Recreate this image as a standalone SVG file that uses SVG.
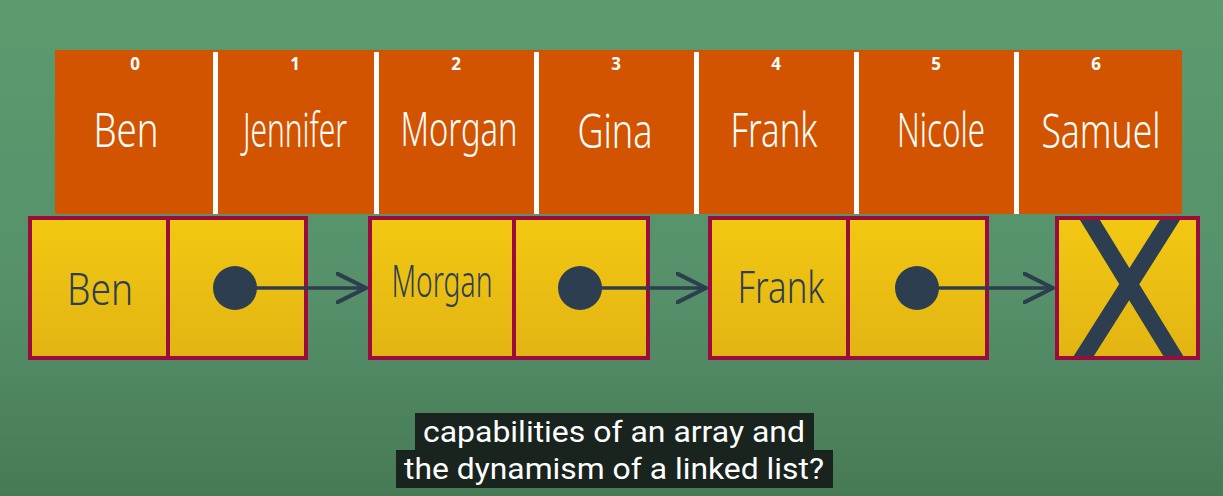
<svg xmlns="http://www.w3.org/2000/svg" width="1223" height="496" viewBox="0 0 1223 496">
<defs>
<linearGradient id="bg" x1="0" y1="0" x2="0" y2="1">
<stop offset="0" stop-color="#5c9b6e"/>
<stop offset="0.6" stop-color="#55906a"/>
<stop offset="1" stop-color="#467a55"/>
</linearGradient>
<linearGradient id="yel" x1="0" y1="0" x2="0" y2="1">
<stop offset="0" stop-color="#f3c812"/>
<stop offset="1" stop-color="#e2b413"/>
</linearGradient>
<marker id="chev" viewBox="0 0 20 20" refX="19" refY="10" markerWidth="32" markerHeight="32" markerUnits="userSpaceOnUse" orient="auto">
<path d="M1,1 L19,10 L1,19" fill="none" stroke="#2c3e50" stroke-width="2.6" stroke-linecap="round" stroke-linejoin="round"/>
</marker>
</defs>
<style>
.cell{fill:#d35400}
.div{fill:#ffffff}
.idx{font-family:"Open Sans","Liberation Sans",sans-serif;font-weight:bold;font-size:17px;fill:#ffffff;text-anchor:middle}
.nm{font-family:"Noto Sans","Liberation Sans",sans-serif;font-size:48px;font-weight:300;fill:#ffffff;text-anchor:middle}
.box{fill:url(#yel);stroke:#9b0b3e;stroke-width:4}
.lnm{font-family:"Noto Sans","Liberation Sans",sans-serif;font-size:44px;font-weight:300;fill:#2c3e50;text-anchor:middle}
.dot{fill:#2c3e50}
.ptr{stroke:#2c3e50;stroke-width:3.5;fill:none;marker-end:url(#chev)}
.cap{fill:#18241d}
.ct{font-family:Roboto,"Liberation Sans",sans-serif;font-size:29px;fill:#ffffff;text-anchor:middle}
</style>
<rect width="1223" height="496" fill="url(#bg)"/>

<g id="array">
<rect class="cell" x="55" y="50" width="1127" height="164"/>
<rect class="div" x="213" y="52" width="5" height="162"/>
<rect class="div" x="374" y="52" width="5" height="162"/>
<rect class="div" x="534" y="52" width="5" height="162"/>
<rect class="div" x="694" y="52" width="5" height="162"/>
<rect class="div" x="854" y="52" width="5" height="162"/>
<rect class="div" x="1014" y="52" width="5" height="162"/>
</g>
<g id="a0"><text class="idx" x="135" y="70">0</text><text class="nm" x="126" y="147" textLength="65" lengthAdjust="spacingAndGlyphs">Ben</text></g>
<g id="a1"><text class="idx" x="295" y="70">1</text><text class="nm" x="295" y="147" font-size="40" textLength="104" lengthAdjust="spacingAndGlyphs">Jennifer</text></g>
<g id="a2"><text class="idx" x="456" y="70">2</text><text class="nm" x="459" y="146" font-size="46" textLength="117" lengthAdjust="spacingAndGlyphs">Morgan</text></g>
<g id="a3"><text class="idx" x="616" y="70">3</text><text class="nm" x="615" y="148" textLength="75" lengthAdjust="spacingAndGlyphs">Gina</text></g>
<g id="a4"><text class="idx" x="776" y="70">4</text><text class="nm" x="774" y="147" font-size="46" textLength="87" lengthAdjust="spacingAndGlyphs">Frank</text></g>
<g id="a5"><text class="idx" x="936" y="70">5</text><text class="nm" x="941" y="147" font-size="44" textLength="88" lengthAdjust="spacingAndGlyphs">Nicole</text></g>
<g id="a6"><text class="idx" x="1096" y="70">6</text><text class="nm" x="1101" y="148" textLength="119" lengthAdjust="spacingAndGlyphs">Samuel</text></g>

<g id="node-ben">
<rect class="box" x="30" y="218" width="138" height="140"/>
<rect class="box" x="168" y="218" width="138" height="140"/>
<text class="lnm" x="100" y="305" textLength="66" lengthAdjust="spacingAndGlyphs">Ben</text>
<circle class="dot" cx="235" cy="288" r="22"/>
</g>
<g id="node-morgan">
<rect class="box" x="370" y="218" width="144" height="140"/>
<rect class="box" x="514" y="218" width="134" height="140"/>
<text class="lnm" x="442" y="297" font-size="39" textLength="101" lengthAdjust="spacingAndGlyphs">Morgan</text>
<circle class="dot" cx="580" cy="288" r="22"/>
</g>
<g id="node-frank">
<rect class="box" x="710" y="218" width="138" height="140"/>
<rect class="box" x="848" y="218" width="139" height="140"/>
<text class="lnm" x="781" y="303" font-size="43" textLength="87" lengthAdjust="spacingAndGlyphs">Frank</text>
<circle class="dot" cx="917" cy="288" r="22"/>
</g>
<g id="node-null">
<rect class="box" x="1057" y="218" width="141" height="140"/>
<clipPath id="xc"><rect x="1059" y="220" width="137" height="136"/></clipPath>
<g clip-path="url(#xc)" stroke="#2c3e50" stroke-width="17">
<line x1="1085" y1="212" x2="1177" y2="362"/>
<line x1="1175" y1="212" x2="1080" y2="362"/>
</g>
</g>

<g id="connectors">
<line class="ptr" x1="250" y1="288" x2="366" y2="288"/>
<line class="ptr" x1="595" y1="288" x2="706" y2="288"/>
<line class="ptr" x1="932" y1="288" x2="1053" y2="288"/>
</g>

<g id="caption">
<rect class="cap" x="415" y="413" width="399" height="38"/>
<rect class="cap" x="396" y="450" width="437" height="38"/>
<text class="ct" x="614" y="442" textLength="382" lengthAdjust="spacingAndGlyphs">capabilities of an array and</text>
<text class="ct" x="614" y="479" textLength="420" lengthAdjust="spacingAndGlyphs">the dynamism of a linked list?</text>
</g>
</svg>
